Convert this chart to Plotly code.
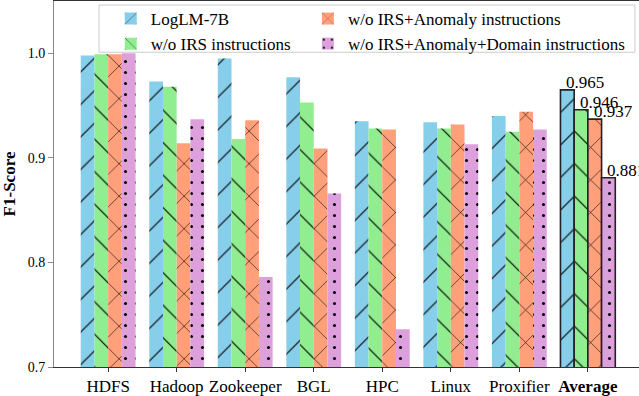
import plotly.graph_objects as go

categories = ["HDFS", "Hadoop", "Zookeeper", "BGL", "HPC", "Linux", "Proxifier", "Average"]
tick_labels = ["HDFS", "Hadoop", "Zookeeper", "BGL", "HPC", "Linux", "Proxifier", "<b>Average</b>"]

series_names = [
    "LogLM-7B",
    "w/o IRS instructions",
    "w/o IRS+Anomaly instructions",
    "w/o IRS+Anomaly+Domain instructions",
]
loglm = [0.998, 0.973, 0.995, 0.977, 0.935, 0.934, 0.940, 0.965]
wo_irs = [0.999, 0.968, 0.918, 0.953, 0.928, 0.928, 0.925, 0.946]
wo_irs_anomaly = [0.999, 0.914, 0.936, 0.909, 0.927, 0.932, 0.944, 0.937]
wo_irs_anomaly_domain = [1.000, 0.937, 0.786, 0.866, 0.736, 0.913, 0.927, 0.881]

all_values = [loglm, wo_irs, wo_irs_anomaly, wo_irs_anomaly_domain]
colors = ["#87CEEB", "#90EE90", "#FFA07A", "#DDA0DD"]
patterns = ["/", "\\", "x", "."]
pattern_sizes = [23, 23, 23, 11]
pattern_solidity = [0.05, 0.05, 0.05, 0.06]
legend_ids = ["legend", "legend", "legend2", "legend2"]

FONT = "Liberation Serif"

fig = go.Figure()
n = len(categories)
for i, (name, vals) in enumerate(zip(series_names, all_values)):
    fig.add_trace(go.Bar(
        x=categories,
        y=vals,
        name=name,
        legend=legend_ids[i],
        marker=dict(
            color=colors[i],
            line=dict(color=["rgba(0,0,0,0)"] * (n - 1) + ["#222222"],
                      width=[0] * (n - 1) + [1.6]),
            pattern=dict(shape=patterns[i], fgcolor="black", fgopacity=1,
                         size=pattern_sizes[i], solidity=pattern_solidity[i]),
        ),
    ))

# value labels on the Average group
bar_w = 0.8 / 4
for i, vals in enumerate(all_values):
    fig.add_annotation(
        x=(n - 1) + (i - 1.5) * bar_w,
        y=vals[-1],
        xref="x", yref="y",
        text=f"{vals[-1]:.3f}",
        showarrow=False,
        xanchor="left", yanchor="bottom",
        xshift=-3, yshift=-4,
        font=dict(family=FONT, size=17, color="black"),
    )

# legend frame
fig.add_shape(type="rect", xref="paper", yref="paper",
              x0=0.077, x1=0.993, y0=0.86, y1=0.989,
              line=dict(color="#cccccc", width=1),
              fillcolor="rgba(255,255,255,0.8)", layer="above")

fig.update_layout(
    width=639, height=396,
    margin=dict(l=54, r=0, t=1, b=24),
    paper_bgcolor="white", plot_bgcolor="white",
    barmode="group", bargap=0.2, bargroupgap=0,
    font=dict(family=FONT, size=17, color="black"),
    showlegend=True,
    legend=dict(x=0.097, y=1.0, xanchor="left", yanchor="top",
                orientation="v", bgcolor="rgba(0,0,0,0)", borderwidth=0,
                font=dict(family=FONT, size=17), tracegroupgap=0),
    legend2=dict(x=0.434, y=1.0, xanchor="left", yanchor="top",
                 orientation="v", bgcolor="rgba(0,0,0,0)", borderwidth=0,
                 font=dict(family=FONT, size=17), tracegroupgap=0),
    xaxis=dict(
        type="category",
        tickmode="array", tickvals=categories, ticktext=tick_labels,
        range=[-0.79, 7.746],
        showline=True, linecolor="#333333", linewidth=1, mirror=True,
        ticks="outside", ticklen=4, tickcolor="#333333",
        tickfont=dict(family=FONT, size=17),
        showgrid=False,
    ),
    yaxis=dict(
        range=[0.7, 1.05],
        tickvals=[0.7, 0.8, 0.9, 1.0], tickformat=".1f",
        showline=True, linecolor="#888888", linewidth=1,
        ticks="outside", ticklen=5, tickcolor="#888888",
        tickfont=dict(family=FONT, size=14),
        showgrid=False, zeroline=False,
        title=dict(text="<b>F1-Score</b>", font=dict(family=FONT, size=17), standoff=8),
    ),
)

fig.write_html("out.html",
               config={"displayModeBar": False},
               post_script="document.body.style.margin='0';document.body.style.overflow='hidden';")
